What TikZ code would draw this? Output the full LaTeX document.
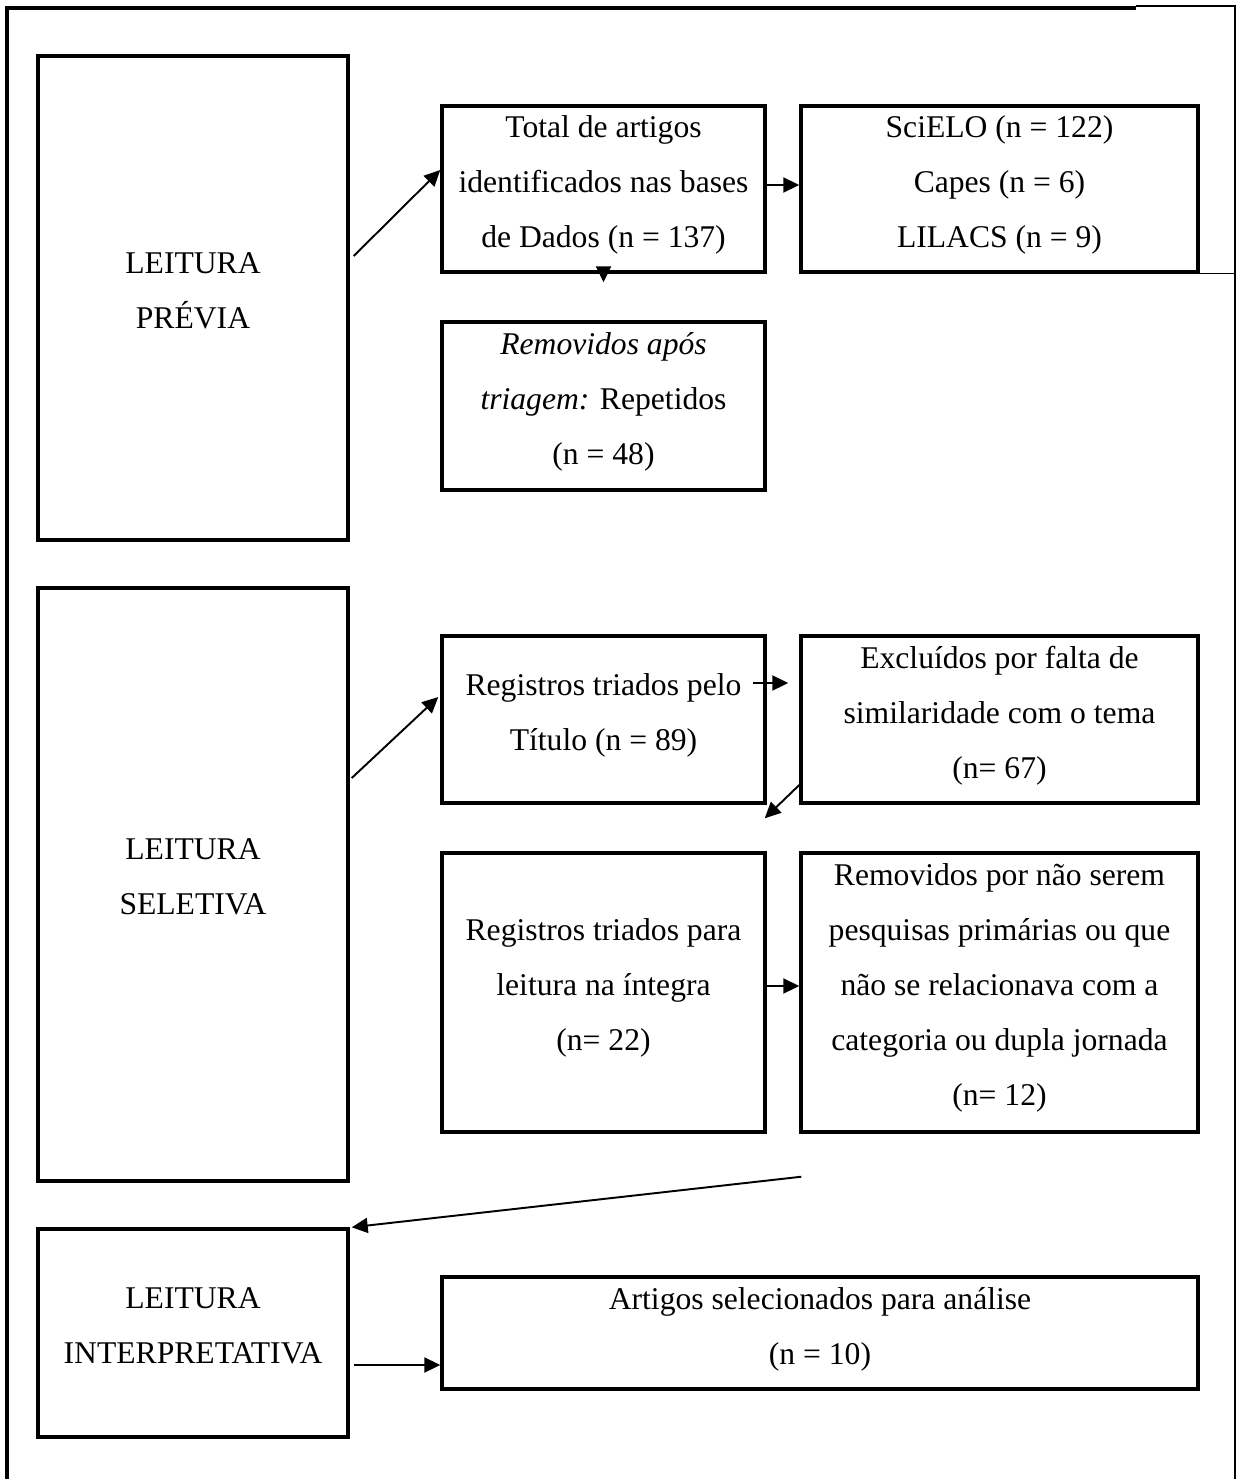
\documentclass[tikz,border=0pt]{standalone}
\usepackage{fontspec}
\setmainfont{Liberation Serif}
\usetikzlibrary{arrows.meta}

\begin{document}
\begin{tikzpicture}[x=0.02cm, y=-0.02cm,
    box/.style={draw, line width=2pt, inner sep=0pt, align=center, text depth=0.3cm,
        font=\fontsize{18}{31.3}\selectfont},
    link/.style={line width=1.1pt, -{Triangle[length=0.32cm, width=0.3cm]}}]

    \useasboundingbox (0,0) rectangle (1239,1479);

    %Frame
    \draw[line width=2pt] (7,1479) -- (7,8) -- (1136,8);
    \draw[line width=0.8pt] (1136,6) -- (1235,6) -- (1235,1479);

    %Reading stages
    \node[box, minimum width=6.2cm, minimum height=9.68cm] (prev) at (193,298) {LEITURA\\PRÉVIA};
    \node[box, minimum width=6.2cm, minimum height=11.86cm] (sel) at (193,884.5) {LEITURA\\SELETIVA};
    \node[box, minimum width=6.2cm, minimum height=4.16cm] (interp) at (193,1333) {LEITURA\\INTERPRETATIVA};

    %Records
    \node[box, minimum width=6.46cm, minimum height=3.32cm] (tot) at (603.5,189) {Total de artigos\\identificados nas bases\\de Dados (n = 137)};
    \node[box, minimum width=7.94cm, minimum height=3.32cm] (base) at (999.5,189) {SciELO (n = 122)\\Capes (n = 6)\\LILACS (n = 9)};
    \node[box, minimum width=6.46cm, minimum height=3.36cm] (rem) at (603.5,406) {\textit{Removidos após}\\\textit{triagem:} Repetidos\\(n = 48)};
    \node[box, minimum width=6.46cm, minimum height=3.34cm] (tit) at (603.5,719.5) {Registros triados pelo\\Título (n = 89)};
    \node[box, minimum width=7.94cm, minimum height=3.34cm] (exc) at (999.5,719.5) {Excluídos por falta de\\similaridade com o tema\\(n= 67)};
    \node[box, minimum width=6.46cm, minimum height=5.58cm] (int) at (603.5,992.5) {Registros triados para\\leitura na íntegra\\(n= 22)};
    \node[box, minimum width=7.94cm, minimum height=5.58cm] (prim) at (999.5,992.5) {Removidos por não serem\\pesquisas primárias ou que\\não se relacionava com a\\categoria ou dupla jornada\\(n= 12)};
    \node[box, minimum width=15.12cm, minimum height=2.24cm] (art) at (820,1333) {Artigos selecionados para análise\\(n = 10)};

    \draw[line width=0.8pt] (base.south east) -- (base.south east -| 1235,0);

    %Connectors
    \draw[link] ([xshift=0.08cm, yshift=0.84cm]prev.east) -- ([yshift=0.38cm]tot.west);
    \draw[link] ([yshift=0.08cm]tot.east) -- ([yshift=0.08cm]base.west);
    \draw[link] (tot.south) -- ([yshift=0.76cm]rem.north);
    \draw[link] ([xshift=0.04cm, yshift=2.13cm]sel.east) -- ([xshift=-0.04cm, yshift=0.45cm]tit.west);
    \draw[link] ([xshift=-0.28cm, yshift=0.73cm]tit.east) -- ([xshift=-0.22cm, yshift=0.73cm]exc.west);
    \draw[link] ([yshift=-1.31cm]exc.west) -- ([xshift=-0.04cm, yshift=0.66cm]int.north east);
    \draw[link] ([yshift=0.13cm]int.east) -- ([yshift=0.13cm]prim.west);
    \draw[link] ([xshift=0.04cm, yshift=-0.86cm]prim.south west) -- ([xshift=0.04cm]interp.north east);
    \draw[link] ([xshift=0.08cm, yshift=-0.64cm]interp.east) -- ([yshift=-0.64cm]art.west);

\end{tikzpicture}
\end{document}
